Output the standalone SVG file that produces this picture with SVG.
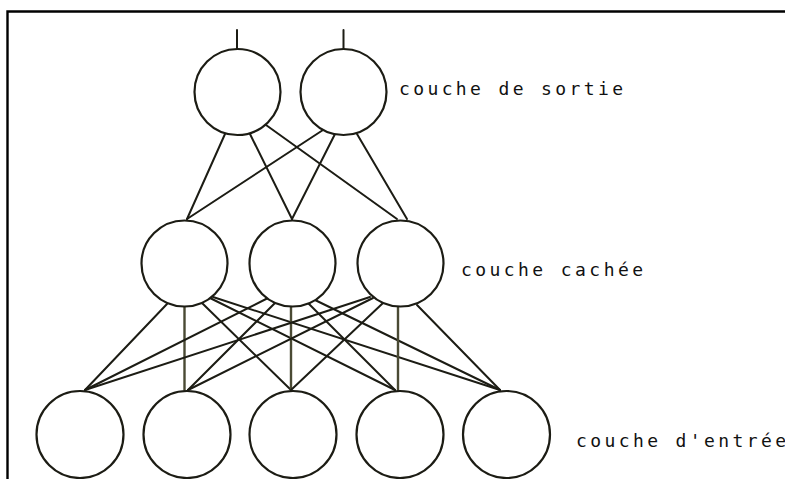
<svg xmlns="http://www.w3.org/2000/svg" width="785" height="479" viewBox="0 0 785 479">
<style>
.n{fill:#fff;stroke:#1c1c14;stroke-width:2.2}
.e line{stroke:#1c1c14;stroke-width:2;stroke-linecap:round}
.e line.v{stroke:#4a4a34;stroke-width:2.4}
.t{font-family:"DejaVu Sans Mono","Liberation Mono",monospace;font-size:18px;fill:#111}
</style>
<rect width="785" height="479" fill="#fff"/>
<path d="M7.5,479 V11.5 H785" fill="none" stroke="#000" stroke-width="2.4"/>
<g id="connectors" class="e">
<line x1="237" y1="30" x2="237" y2="49"/>
<line x1="343.5" y1="30" x2="343.5" y2="49"/>
<line x1="225" y1="134" x2="187" y2="219"/>
<line x1="250" y1="134" x2="292" y2="219"/>
<line x1="266" y1="125" x2="397" y2="219"/>
<line x1="323" y1="130" x2="187" y2="219"/>
<line x1="335" y1="134" x2="292" y2="219"/>
<line x1="357" y1="134" x2="407" y2="219"/>
<line x1="167" y1="304" x2="85" y2="390"/>
<line class="v" x1="184.5" y1="306" x2="184.5" y2="390"/>
<line x1="202" y1="303" x2="291" y2="390"/>
<line x1="210" y1="298" x2="395" y2="390"/>
<line x1="213" y1="297" x2="500" y2="390"/>
<line x1="268" y1="298" x2="85" y2="390"/>
<line x1="275" y1="303" x2="188" y2="390"/>
<line class="v" x1="291" y1="306" x2="291" y2="390"/>
<line x1="308" y1="303" x2="395" y2="390"/>
<line x1="315" y1="300" x2="500" y2="390"/>
<line x1="370" y1="297" x2="85" y2="390"/>
<line x1="373" y1="298" x2="188" y2="390"/>
<line x1="383" y1="303" x2="291" y2="390"/>
<line class="v" x1="398" y1="306" x2="398" y2="390"/>
<line x1="417" y1="305" x2="500" y2="390"/>
</g>
<g id="out1"><circle class="n" cx="237.5" cy="92" r="43"/></g>
<g id="out2"><circle class="n" cx="343.5" cy="92" r="43"/></g>
<g id="hid1"><circle class="n" cx="184.5" cy="263.5" r="43"/></g>
<g id="hid2"><circle class="n" cx="292.5" cy="263.5" r="43"/></g>
<g id="hid3"><circle class="n" cx="400.5" cy="263.5" r="43"/></g>
<g id="in1"><circle class="n" cx="80" cy="434.5" r="43.5"/></g>
<g id="in2"><circle class="n" cx="187" cy="434.5" r="43.5"/></g>
<g id="in3"><circle class="n" cx="293" cy="434.5" r="43.5"/></g>
<g id="in4"><circle class="n" cx="400" cy="434.5" r="43.5"/></g>
<g id="in5"><circle class="n" cx="506.5" cy="434.5" r="43.5"/></g>
<g id="labels">
<text class="t" x="399" y="95" textLength="224" lengthAdjust="spacing">couche de sortie</text>
<text class="t" x="461" y="276" textLength="182" lengthAdjust="spacing">couche cachée</text>
<text class="t" x="576" y="447" textLength="210" lengthAdjust="spacing">couche d'entrée</text>
</g>
</svg>
